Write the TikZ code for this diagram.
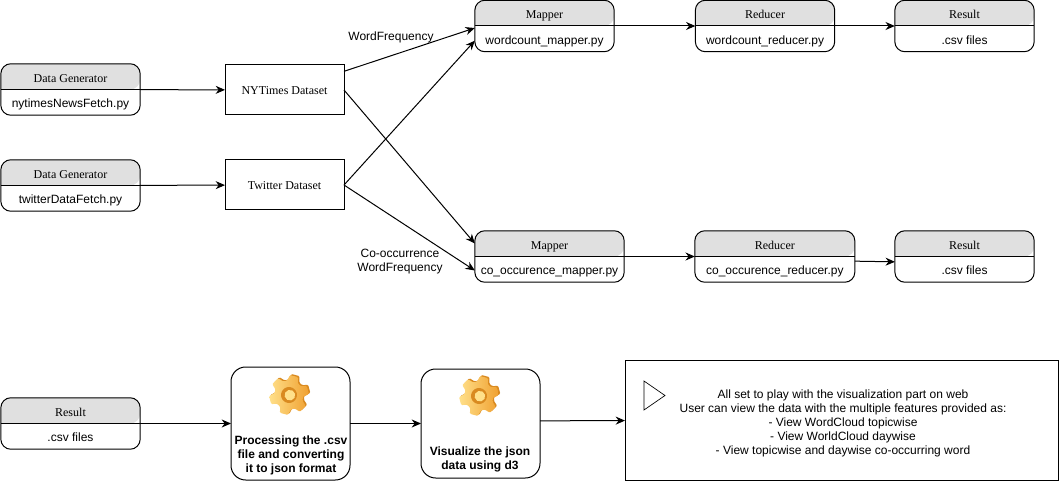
\documentclass[tikz,border=0pt]{standalone}
\usepackage{fontspec}
\setmainfont{Liberation Serif}
\setsansfont{Liberation Sans}
\usetikzlibrary{arrows.meta,positioning}
\definecolor{headgray}{HTML}{E0E0E0}
\definecolor{gearlight}{HTML}{FFE08A}
\definecolor{geardark}{HTML}{F0A030}
\definecolor{gearedge}{HTML}{D98A20}
\tikzset{
	>={Stealth[length=7pt,width=6pt]},
	laneframe/.style={minimum height=38.6pt,inner sep=0pt,outer sep=0pt},
	lanetitle/.style={font=\fontsize{9}{10.5}\selectfont,text height=5.6pt,text depth=1.8pt,inner sep=0pt},
	lanebody/.style={font=\sffamily\fontsize{9}{10.5}\selectfont,text height=6.5pt,text depth=2pt,inner sep=0pt},
	plainbox/.style={draw,line width=.75pt,minimum width=89.25pt,minimum height=37.5pt,inner sep=0pt,outer sep=0pt,text height=7pt,text depth=0pt,font=\fontsize{9}{10.5}\selectfont},
	stepbox/.style={draw,line width=.75pt,rounded corners=11pt,minimum width=89.25pt,inner sep=0pt,outer sep=0pt},
	steptext/.style={font=\sffamily\bfseries\fontsize{9}{10.5}\selectfont,align=center,inner sep=0pt},
	flowlabel/.style={font=\sffamily\fontsize{9}{10.5}\selectfont,align=center,inner sep=0pt}
}
% box with a gray title strip: position, name, width, title, body
\newcommand{\lanebox}[5]{
	\node[laneframe,minimum width=#3,#1] (#2) {};
	\fill[headgray] (#2.west) [rounded corners=7.5pt] |- (#2.north) -| (#2.east) [sharp corners] -- cycle;
	\draw[line width=.75pt,rounded corners=7.5pt] (#2.south west) rectangle (#2.north east);
	\draw[line width=.75pt] (#2.west) -- (#2.east);
	\node[lanetitle,above=7.2pt of #2] (#2-title) {#4};
	\node[lanebody,below=11.6pt of #2] (#2-body) {#5};
}
% cog icon
\newcommand{\gearicon}[2]{
	\begin{scope}[shift={#2},rotate=15,line join=round]
		\fill[gearedge,rounded corners=.8pt,shift={(1.2pt,.5pt)}] (-20:10.6pt)
			\foreach \a in {0,60,...,300} {-- (\a-22:11pt) -- (\a-12:15pt) -- (\a+12:15pt) -- (\a+22:11pt)} -- cycle;
		\shade[left color=gearlight,right color=geardark,rounded corners=.8pt] (-20:10.6pt)
			\foreach \a in {0,60,...,300} {-- (\a-22:11pt) -- (\a-12:15pt) -- (\a+12:15pt) -- (\a+22:11pt)} -- cycle;
		\fill[gearedge] (0,0) circle (6pt);
		\fill[gearlight] (.6pt,-.3pt) circle (4pt);
		\node[inner sep=0pt] (#1) at (0,0) {};
	\end{scope}
}
\begin{document}
\begin{tikzpicture}[x=.75pt,y=-.75pt,on grid]
	\useasboundingbox (0,0) rectangle (1061,481);
	\lanebox{at={(70.5,89.5)}}{dgone}{104.5pt}{Data Generator}{nytimesNewsFetch.py}
	\lanebox{below=72pt of dgone}{dgtwo}{104.5pt}{Data Generator}{twitterDataFetch.py}
	\node[plainbox] (nytimes) at (284.5,90) {NYTimes Dataset};
	\node[plainbox,below=71.25pt of nytimes] (twitter) {Twitter Dataset};
	\lanebox{at={(544.5,26)}}{mapperone}{104.5pt}{Mapper}{wordcount\_mapper.py}
	\lanebox{right=165.4pt of mapperone}{reducerone}{104.5pt}{Reducer}{wordcount\_reducer.py}
	\lanebox{right=149.6pt of reducerone}{resultone}{104.5pt}{Result}{.csv files}
	\lanebox{at={(549.5,256.5)}}{mappertwo}{112pt}{Mapper}{co\_occurence\_mapper.py}
	\lanebox{right=169pt of mappertwo}{reducertwo}{120pt}{Reducer}{co\_occurence\_reducer.py}
	\lanebox{right=142.3pt of reducertwo}{resulttwo}{104.5pt}{Result}{.csv files}
	\lanebox{at={(70.5,423.5)}}{resultthree}{104.5pt}{Result}{.csv files}
	\node[stepbox,minimum height=84.75pt,right=165pt of resultthree] (process) {};
	\node[stepbox,minimum height=81.75pt,right=142.5pt of process] (visual) {};
	\node[draw,line width=.75pt,minimum width=324.75pt,minimum height=90pt,inner sep=0pt,outer sep=0pt] (web) at (841.5,420) {};
	\node[flowlabel] (webtext) at (843,423) {All set to play with the visualization part on web\\User can view the data with the multiple features provided as:\\- View WordCloud topicwise\\- View WorldCloud daywise\\- View topicwise and daywise co-occurring word};
	\draw[line width=.5pt,line join=miter] (644,381) -- (665,395.5) -- (644,410) -- cycle;
	\gearicon{gearone}{(289,395)}
	\gearicon{geartwo}{(479,396)}
	\node[steptext] (processtext) at (291,455) {Processing the .csv\\file and converting\\it to json format};
	\node[steptext] (visualtext) at (480,459) {Visualize the json\\data using d3};
	\node[flowlabel] (wordlabel) at (391,37) {WordFrequency};
	\node[flowlabel] (colabel) at (400,261.5) {Co-occurrence\\WordFrequency};
	\path[->,line width=.75pt]
	(dgone) edge (nytimes)
	(dgtwo) edge (twitter)
	([yshift=14pt]nytimes.east) edge ([yshift=-1.5pt]mapperone.west)
	(nytimes.east) edge ([yshift=9.75pt]mappertwo.west)
	(twitter.east) edge ([yshift=-11pt]mapperone.west)
	(twitter.east) edge ([yshift=-10.5pt]mappertwo.west)
	(mapperone) edge (reducerone)
	(reducerone) edge (resultone)
	(mappertwo) edge (reducertwo)
	([yshift=-3.5pt]reducertwo.east) edge ([yshift=-4pt]resulttwo.west)
	(resultthree) edge (process)
	(process) edge (visual)
	([yshift=2pt]visual.east) edge (web);
\end{tikzpicture}
\end{document}
